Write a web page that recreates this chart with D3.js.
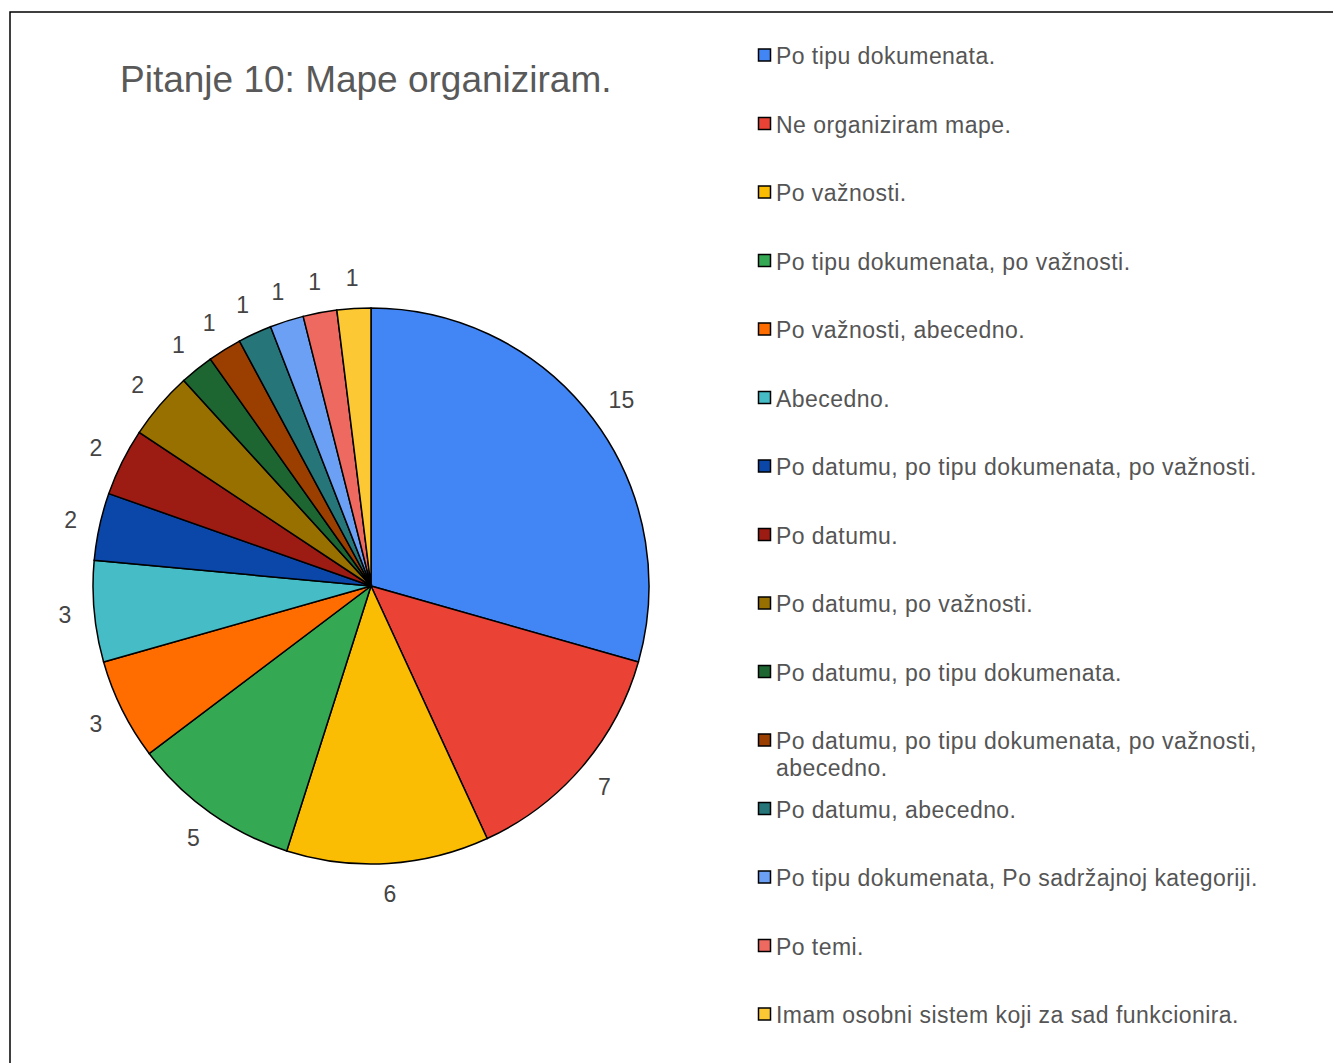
<!DOCTYPE html>
<html>
<head>
<meta charset="utf-8">
<script src="https://cdn.jsdelivr.net/npm/d3@7"></script>
<style>
  body { margin: 0; background: #fff; }
  svg { font-family: "Liberation Sans", Arial, sans-serif; }
</style>
</head>
<body>
<svg></svg>
<script>
const width = 1333;
const height = 1063;

// datos
const categorias = [
  "Po tipu dokumenata.",
  "Ne organiziram mape.",
  "Po važnosti.",
  "Po tipu dokumenata, po važnosti.",
  "Po važnosti, abecedno.",
  "Abecedno.",
  "Po datumu, po tipu dokumenata, po važnosti.",
  "Po datumu.",
  "Po datumu, po važnosti.",
  "Po datumu, po tipu dokumenata.",
  "Po datumu, po tipu dokumenata, po važnosti, abecedno.",
  "Po datumu, abecedno.",
  "Po tipu dokumenata, Po sadržajnoj kategoriji.",
  "Po temi.",
  "Imam osobni sistem koji za sad funkcionira."
];
const valores = [15, 7, 6, 5, 3, 3, 2, 2, 2, 1, 1, 1, 1, 1, 1];
const colores = [
  "#4285f4", "#ea4335", "#fbbc04", "#34a853", "#ff6d01", "#46bdc6",
  "#0b47a8", "#9c1b12", "#977000", "#1d6531", "#9a3f00", "#257579",
  "#6ba0f5", "#ee6a60", "#fcc934"
];

const cx = 371, cy = 586, radius = 278;

const svg = d3.select("svg").attr("width", width).attr("height", height);

// marco
svg.append("rect")
  .attr("x", 10).attr("y", 12)
  .attr("width", width + 20).attr("height", height + 20)
  .attr("fill", "none").attr("stroke", "#000").attr("stroke-width", 1.5);

// titulo
svg.append("text")
  .attr("x", 120).attr("y", 92)
  .style("font-size", "37px")
  .attr("fill", "#595959")
  .text("Pitanje 10: Mape organiziram.");

const data = categorias.map((c, i) => ({ cat: c, valor: valores[i], color: colores[i] }));

const pie = d3.pie().sort(null).value((d) => d.valor);
const arc = d3.arc().innerRadius(0).outerRadius(radius);

const g = svg.append("g").attr("transform", `translate(${cx},${cy})`);

const arcs = pie(data);

g.selectAll("path")
  .data(arcs)
  .enter()
  .append("path")
  .attr("d", arc)
  .attr("fill", (d) => d.data.color)
  .attr("stroke", "#000")
  .attr("stroke-width", 1.5);

// etiquetas: el borde de la caja queda a radius + 23
const rLbl = radius + 23;
const altoTxt = 16;
g.selectAll(".lbl")
  .data(arcs)
  .enter()
  .append("text")
  .attr("class", "lbl")
  .attr("text-anchor", "middle")
  .attr("dy", "0.35em")
  .style("font-size", "23px")
  .attr("fill", "#444")
  .text((d) => d.data.valor)
  .each(function (d) {
    const a = (d.startAngle + d.endAngle) / 2;
    const ux = Math.sin(a), uy = -Math.cos(a);
    const w = this.getComputedTextLength();
    const x = ux * rLbl + ux * w / 2;
    const y = uy * rLbl + uy * altoTxt / 2;
    d3.select(this).attr("transform", `translate(${x},${y})`);
  });

// leyenda
const leg = svg.append("g");
const y0 = 56, paso = 68.5;

const item = leg.selectAll(".item")
  .data(data)
  .enter()
  .append("g")
  .attr("class", "item")
  .attr("transform", (d, i) => `translate(758,${y0 + i * paso})`);

item.append("rect")
  .attr("x", 0.5).attr("y", -7)
  .attr("width", 12).attr("height", 12)
  .attr("fill", (d) => d.color)
  .attr("stroke", "#000")
  .attr("stroke-width", 1.5);

item.append("text")
  .attr("x", 18)
  .attr("dy", "0.35em")
  .style("font-size", "23px")
  .style("letter-spacing", "0.45px")
  .attr("fill", "#555")
  .each(function (d) {
    const t = d3.select(this);
    if (d.cat.length > 46) {
      const partes = d.cat.split(" abecedno.");
      t.append("tspan").attr("x", 18).text(partes[0]);
      t.append("tspan").attr("x", 18).attr("dy", 27).text("abecedno.");
    } else {
      t.text(d.cat);
    }
  });
</script>
</body>
</html>
